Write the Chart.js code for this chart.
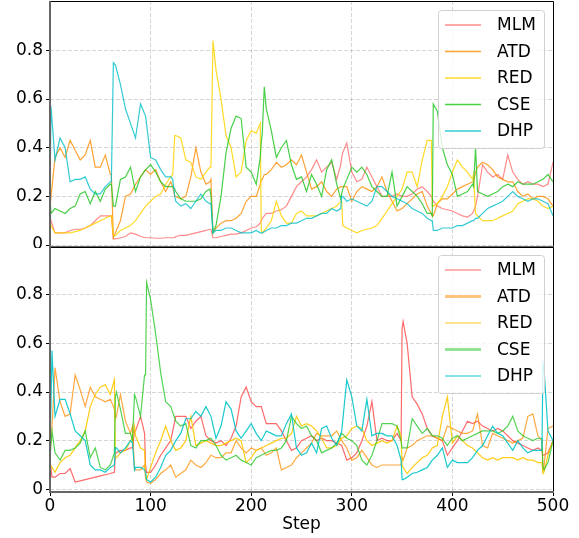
<!DOCTYPE html>
<html>
<head>
<meta charset="utf-8">
<script src="https://cdn.jsdelivr.net/npm/chart.js@4.4.1/dist/chart.umd.min.js"></script>
<style>
  html, body { margin: 0; padding: 0; background: #fff; }
  #wrap { position: relative; width: 579px; height: 538px; }
  #topChart { position: absolute; left: 0; top: 0; }
  #bottomChart { position: absolute; left: 0; top: 247px; }
</style>
</head>
<body>
<div id="wrap">
  <canvas id="topChart" width="579" height="248"></canvas>
  <canvas id="bottomChart" width="579" height="291"></canvas>
</div>
<script>
// ---- data (every 5 steps + a few points at the jumps) ----
const steps = [];
for (let s = 0; s <= 500; s += 5) steps.push(s);

const seriesNames = ["MLM", "ATD", "RED", "CSE", "DHP"];
const yTicks = [0, 0.2, 0.4, 0.6, 0.8];
const xTicks = [0, 100, 200, 300, 400, 500];

// top panel
const topMLM = [0.12,0.05,0.05,0.05,0.06,0.065,0.065,0.07,0.08,0.10,0.12,0.12,0.12,0.025,0.03,0.035,0.05,0.045,0.035,0.03,
  0.03,0.028,0.028,0.03,0.03,0.035,0.04,0.04,0.045,0.05,0.055,0.06,0.065,0.03,0.035,0.04,0.045,0.045,0.05,0.06,
  0.07,0.075,0.1,0.13,0.13,0.14,0.145,0.16,0.2,0.24,0.26,0.28,0.31,0.35,0.3,0.32,0.34,0.27,0.36,0.42,
  0.3,0.26,0.27,0.32,0.28,0.24,0.2,0.2,0.2,0.21,0.2,0.2,0.21,0.23,0.24,0.22,0.19,0.16,0.15,0.145,
  0.14,0.13,0.12,0.115,0.13,0.2,0.33,0.3,0.28,0.29,0.27,0.37,0.3,0.27,0.25,0.26,0.25,0.25,0.24,0.25,0.34];
const topATD = [0.15,0.36,0.4,0.36,0.43,0.39,0.35,0.37,0.43,0.32,0.32,0.37,0.29,0.05,0.1,0.2,0.21,0.25,0.28,0.31,
  0.29,0.31,0.26,0.22,0.26,0.2,0.19,0.2,0.28,0.4,0.3,0.25,0.27,0.07,0.09,0.1,0.1,0.11,0.13,0.18,
  0.2,0.2,0.27,0.29,0.31,0.34,0.32,0.33,0.35,0.33,0.37,0.3,0.23,0.24,0.26,0.22,0.2,0.23,0.24,0.24,
  0.18,0.22,0.24,0.23,0.22,0.24,0.28,0.22,0.18,0.14,0.15,0.17,0.19,0.21,0.22,0.16,0.12,0.17,0.19,0.19,
  0.21,0.23,0.24,0.25,0.26,0.32,0.34,0.33,0.31,0.28,0.27,0.26,0.26,0.22,0.2,0.21,0.19,0.2,0.2,0.19,0.16];
const topRED = [0.1,0.05,0.05,0.05,0.05,0.055,0.06,0.07,0.08,0.09,0.1,0.11,0.12,0.04,0.06,0.07,0.08,0.1,0.13,0.16,
  0.18,0.2,0.21,0.25,0.28,0.45,0.44,0.35,0.34,0.28,0.27,0.3,0.32,0.72,0.6,0.45,0.4,0.28,0.3,0.43,
  0.47,0.46,0.06,0.07,0.1,0.18,0.12,0.09,0.09,0.13,0.14,0.12,0.12,0.12,0.13,0.14,0.15,0.16,0.18,0.07,
  0.06,0.05,0.06,0.065,0.07,0.08,0.11,0.14,0.17,0.2,0.23,0.3,0.3,0.24,0.35,0.43,0.16,0.17,0.2,0.24,
  0.3,0.35,0.32,0.3,0.27,0.12,0.1,0.1,0.1,0.11,0.12,0.13,0.14,0.17,0.18,0.19,0.19,0.18,0.16,0.15,0.16];
const topCSE = [0.2,0.15,0.14,0.13,0.15,0.16,0.21,0.22,0.17,0.22,0.18,0.23,0.25,0.16,0.27,0.28,0.32,0.22,0.28,0.31,
  0.33,0.3,0.26,0.24,0.24,0.22,0.19,0.18,0.18,0.18,0.19,0.22,0.2,0.08,0.2,0.38,0.48,0.53,0.52,0.32,
  0.3,0.25,0.42,0.56,0.47,0.36,0.4,0.43,0.33,0.27,0.28,0.22,0.29,0.25,0.2,0.31,0.35,0.25,0.21,0.27,
  0.32,0.3,0.32,0.29,0.24,0.22,0.2,0.2,0.3,0.16,0.2,0.24,0.22,0.2,0.17,0.13,0.12,0.55,0.4,0.33,
  0.29,0.2,0.21,0.22,0.25,0.22,0.21,0.2,0.21,0.22,0.24,0.25,0.24,0.26,0.25,0.25,0.25,0.26,0.27,0.29,0.26];
const topDHP = [0.2,0.35,0.44,0.4,0.26,0.27,0.27,0.28,0.23,0.21,0.21,0.24,0.26,0.74,0.66,0.56,0.5,0.44,0.58,0.53,
  0.36,0.35,0.31,0.28,0.28,0.18,0.16,0.17,0.15,0.18,0.21,0.18,0.17,0.06,0.06,0.07,0.07,0.06,0.05,0.05,
  0.05,0.06,0.05,0.06,0.07,0.07,0.08,0.08,0.09,0.09,0.1,0.11,0.11,0.12,0.13,0.13,0.15,0.14,0.2,0.18,
  0.19,0.18,0.17,0.16,0.18,0.24,0.24,0.22,0.2,0.19,0.18,0.17,0.15,0.14,0.13,0.11,0.1,0.06,0.07,0.07,
  0.07,0.08,0.08,0.09,0.1,0.11,0.13,0.15,0.16,0.17,0.18,0.2,0.22,0.2,0.19,0.18,0.19,0.19,0.18,0.17,0.12];

// top panel: extra points around the sharp jumps
const topJumpSteps = [1, 61, 63, 122, 124, 159, 162, 209, 211, 213, 289, 291, 379, 381, 421, 423];
const topMLMJumps = [0.1, 0.12, 0.025, 0.03, 0.03, 0.065, 0.03, 0.09, 0.11, 0.12, 0.33, 0.38, 0.2, 0.18, 0.14, 0.16];
const topATDJumps = [0.2, 0.29, 0.03, 0.24, 0.2, 0.26, 0.05, 0.25, 0.27, 0.29, 0.24, 0.24, 0.13, 0.12, 0.26, 0.3];
const topREDJumps = [0.08, 0.12, 0.04, 0.29, 0.45, 0.32, 0.84, 0.5, 0.05, 0.06, 0.18, 0.08, 0.43, 0.16, 0.29, 0.13];
const topCSEJumps = [0.13, 0.25, 0.16, 0.24, 0.23, 0.23, 0.05, 0.36, 0.46, 0.65, 0.19, 0.23, 0.13, 0.58, 0.24, 0.4];
const topDHPJumps = [0.57, 0.26, 0.75, 0.27, 0.2, 0.17, 0.05, 0.05, 0.05, 0.055, 0.15, 0.2, 0.1, 0.06, 0.1, 0.11];

// bottom panel
const botMLM = [0.12,0.05,0.065,0.065,0.085,0.03,0.035,0.04,0.045,0.05,0.055,0.06,0.065,0.15,0.16,0.16,0.17,0.24,0.3,0.1,
  0.07,0.1,0.14,0.17,0.2,0.3,0.3,0.3,0.25,0.28,0.3,0.22,0.2,0.19,0.2,0.18,0.21,0.26,0.38,0.42,
  0.36,0.34,0.34,0.27,0.27,0.27,0.24,0.2,0.16,0.17,0.2,0.21,0.22,0.2,0.21,0.2,0.2,0.19,0.18,0.12,
  0.13,0.15,0.2,0.26,0.36,0.2,0.21,0.2,0.2,0.23,0.66,0.6,0.38,0.35,0.31,0.25,0.22,0.21,0.2,0.14,
  0.17,0.2,0.24,0.28,0.27,0.28,0.26,0.25,0.24,0.25,0.24,0.22,0.2,0.19,0.18,0.17,0.16,0.17,0.14,0.15,0.2];
const botATD = [0.15,0.5,0.36,0.3,0.31,0.47,0.41,0.34,0.42,0.38,0.37,0.36,0.37,0.29,0.39,0.28,0.23,0.08,0.08,0.05,
  0.025,0.04,0.065,0.08,0.1,0.05,0.065,0.08,0.12,0.1,0.09,0.11,0.14,0.13,0.13,0.15,0.15,0.2,0.17,0.15,
  0.17,0.16,0.17,0.14,0.15,0.17,0.08,0.09,0.1,0.13,0.15,0.17,0.19,0.23,0.22,0.22,0.22,0.24,0.2,0.17,
  0.12,0.13,0.16,0.13,0.1,0.09,0.1,0.1,0.1,0.1,0.13,0.17,0.18,0.2,0.21,0.22,0.22,0.21,0.2,0.26,
  0.25,0.24,0.23,0.23,0.24,0.31,0.18,0.17,0.23,0.22,0.21,0.2,0.19,0.2,0.21,0.3,0.31,0.22,0.08,0.25,0.26];
const botRED = [0.1,0.07,0.11,0.13,0.14,0.17,0.2,0.24,0.34,0.39,0.42,0.43,0.39,0.13,0.15,0.16,0.2,0.22,0.17,0.05,
  0.09,0.15,0.2,0.26,0.2,0.16,0.17,0.2,0.3,0.18,0.19,0.2,0.19,0.18,0.18,0.19,0.2,0.21,0.2,0.11,
  0.13,0.16,0.17,0.18,0.19,0.2,0.21,0.21,0.23,0.3,0.26,0.27,0.26,0.24,0.21,0.17,0.17,0.18,0.21,0.22,
  0.25,0.26,0.25,0.2,0.18,0.19,0.2,0.19,0.2,0.26,0.1,0.065,0.09,0.11,0.13,0.14,0.17,0.18,0.3,0.38,
  0.19,0.22,0.2,0.18,0.17,0.15,0.13,0.12,0.13,0.12,0.13,0.13,0.13,0.12,0.13,0.12,0.12,0.11,0.065,0.14,0.2];
const botCSE = [0.13,0.15,0.12,0.16,0.16,0.17,0.19,0.24,0.13,0.17,0.09,0.08,0.1,0.38,0.33,0.23,0.23,0.38,0.3,0.47,
  0.78,0.64,0.48,0.36,0.34,0.28,0.26,0.27,0.18,0.17,0.2,0.2,0.21,0.18,0.14,0.12,0.13,0.14,0.12,0.11,
  0.1,0.13,0.14,0.15,0.16,0.16,0.17,0.2,0.3,0.27,0.25,0.26,0.22,0.2,0.15,0.16,0.17,0.19,0.23,0.21,
  0.2,0.18,0.12,0.1,0.14,0.2,0.27,0.27,0.27,0.26,0.17,0.17,0.29,0.26,0.23,0.25,0.22,0.22,0.21,0.18,
  0.21,0.22,0.2,0.21,0.22,0.23,0.24,0.24,0.24,0.23,0.24,0.26,0.3,0.24,0.22,0.21,0.2,0.21,0.09,0.11,0.2];
const botDHP = [0.15,0.3,0.37,0.37,0.31,0.24,0.22,0.2,0.1,0.08,0.08,0.07,0.09,0.17,0.15,0.17,0.2,0.09,0.09,0.07,
  0.03,0.05,0.09,0.14,0.16,0.2,0.23,0.29,0.29,0.32,0.3,0.34,0.3,0.21,0.26,0.36,0.33,0.24,0.21,0.24,
  0.27,0.23,0.2,0.24,0.23,0.22,0.22,0.27,0.31,0.17,0.14,0.15,0.19,0.15,0.25,0.26,0.21,0.18,0.24,0.45,
  0.38,0.26,0.24,0.37,0.22,0.23,0.23,0.22,0.22,0.18,0.04,0.05,0.065,0.07,0.08,0.09,0.12,0.14,0.17,0.09,
  0.12,0.11,0.11,0.11,0.13,0.16,0.18,0.22,0.26,0.23,0.22,0.19,0.16,0.2,0.17,0.15,0.16,0.16,0.52,0.24,0.2];

// bottom panel: extra points around the sharp jumps
const botJumpSteps = [2, 64, 66, 82, 84, 94, 96, 349, 351, 489, 491];
const botMLMJumps = [0.05, 0.07, 0.15, 0.17, 0.24, 0.23, 0.07, 0.2, 0.69, 0.16, 0.14];
const botATDJumps = [0.25, 0.33, 0.3, 0.26, 0.08, 0.1, 0.03, 0.1, 0.12, 0.2, 0.09];
const botREDJumps = [0.09, 0.45, 0.13, 0.21, 0.26, 0.16, 0.04, 0.22, 0.09, 0.11, 0.07];
const botCSEJumps = [0.24, 0.15, 0.4, 0.2, 0.39, 0.47, 0.85, 0.2, 0.17, 0.21, 0.08];
const botDHPJumps = [0.57, 0.1, 0.17, 0.19, 0.08, 0.08, 0.04, 0.12, 0.04, 0.16, 0.5];

const topColors = ["rgba(255,100,100,0.75)", "rgba(255,140,0,0.8)", "rgba(255,212,0,0.85)", "rgba(40,200,40,0.85)", "rgba(0,190,200,0.8)"];
const botColors = ["rgba(255,70,70,0.8)", "rgba(255,140,0,0.75)", "rgba(255,200,0,0.9)", "rgba(40,200,40,0.8)", "rgba(0,195,200,0.9)"];
const botLegendColors = ["rgba(255,70,70,0.85)", "rgba(255,140,0,0.5)", "rgba(255,200,0,0.9)", "rgba(40,200,40,0.5)", "rgba(0,195,200,0.95)"];
const botLegendWidths = [1.2, 3, 1.2, 3, 1.2];

const FONT = "'DejaVu Sans', sans-serif";

// grid points + jump points, sorted by step
function mergePoints(vals, jumpSteps, jumpVals) {
  const pts = vals.map((v, k) => ({ x: steps[k], y: v }));
  jumpSteps.forEach((s, k) => pts.push({ x: s, y: jumpVals[k] }));
  return pts.sort((a, b) => a.x - b.x);
}

function makeDatasets(values, jumpSteps, jumps, colors) {
  return values.map((vals, i) => ({
    label: seriesNames[i],
    data: mergePoints(vals, jumpSteps, jumps[i]),
    borderColor: colors[i],
    borderWidth: 1.2,
    pointRadius: 0,
    tension: 0,
    fill: false,
    order: values.length - i   // later series on top, like matplotlib
  }));
}

// legend box in the top-right corner of the plot area
const boxLegend = {
  id: "boxLegend",
  afterDraw(chart, args, opts) {
    const { ctx, chartArea } = chart;
    const w = 106, h = 138;
    const x0 = chartArea.right - 9 - w;
    const y0 = chartArea.top + opts.top;
    ctx.save();
    ctx.beginPath();
    ctx.roundRect(x0 + 0.5, y0 + 0.5, w, h, 3);
    ctx.fillStyle = "rgba(255,255,255,0.8)";
    ctx.fill();
    ctx.strokeStyle = "#d0d0d0";
    ctx.lineWidth = 1;
    ctx.stroke();
    ctx.font = "17px " + FONT;
    ctx.textBaseline = "middle";
    ctx.textAlign = "left";
    chart.data.datasets.forEach((ds, i) => {
      const cy = y0 + 15 + i * 26.5;
      ctx.beginPath();
      ctx.moveTo(x0 + 7, cy);
      ctx.lineTo(x0 + 43, cy);
      ctx.strokeStyle = opts.colors ? opts.colors[i] : ds.borderColor;
      ctx.lineWidth = opts.widths ? opts.widths[i] : 1.5;
      ctx.stroke();
      ctx.fillStyle = "#000";
      ctx.fillText(ds.label, x0 + 59, cy + 1);
    });
    ctx.restore();
  }
};

// spines: gray left/bottom, black top/right
const spines = {
  id: "spines",
  afterDatasetsDraw(chart) {
    const { ctx, chartArea: a } = chart;
    ctx.save();
    ctx.strokeStyle = "#000";
    ctx.lineWidth = 1;
    ctx.beginPath();
    ctx.moveTo(a.left, a.top + 0.5);
    ctx.lineTo(a.right + 0.5, a.top + 0.5);
    ctx.lineTo(a.right + 0.5, a.bottom);
    ctx.stroke();
    ctx.strokeStyle = "#666";
    ctx.lineWidth = 2;
    ctx.beginPath();
    ctx.moveTo(a.left, a.top);
    ctx.lineTo(a.left, a.bottom);
    ctx.lineTo(a.right + 1, a.bottom);
    ctx.stroke();
    ctx.restore();
  }
};

function setTicks(vals) {
  return axis => { axis.ticks = vals.map(v => ({ value: v })); };
}

function makeOptions(cfg) {
  return {
    responsive: false,
    animation: false,
    events: [],
    layout: { padding: { left: 0, right: 26, top: cfg.padTop, bottom: 0 } },
    plugins: {
      legend: { display: false },
      tooltip: { enabled: false },
      boxLegend: cfg.legend
    },
    scales: {
      x: {
        type: "linear",
        min: 0,
        max: 500,
        afterBuildTicks: setTicks(xTicks),
        afterFit: axis => {
          axis.height = cfg.xHeight;
          axis.paddingLeft = 0;
          axis.paddingRight = 0;
        },
        border: { display: false, dash: [4, 2] },
        grid: {
          color: "rgba(0,0,0,0.16)",
          tickBorderDash: [],
          tickColor: "#000",
          tickLength: 4,
          drawTicks: cfg.showX
        },
        ticks: {
          display: cfg.showX,
          color: "#000",
          padding: 0,
          maxRotation: 0,
          font: { family: FONT, size: 17 }
        },
        title: {
          display: cfg.showX,
          text: "Step",
          color: "#000",
          padding: { top: 0, bottom: 3 },
          font: { family: FONT, size: 17 }
        }
      },
      y: {
        min: cfg.yMin,
        max: cfg.yMax,
        afterBuildTicks: setTicks(yTicks),
        afterFit: axis => {
          axis.width = 50;
          axis.paddingTop = 0;
          axis.paddingBottom = 0;
        },
        border: { display: false, dash: [4, 2] },
        grid: {
          color: "rgba(0,0,0,0.16)",
          tickBorderDash: [],
          tickColor: "#000",
          tickLength: 4
        },
        ticks: {
          color: "#000",
          padding: 3,
          font: { family: FONT, size: 17 },
          callback: v => (v === 0 ? "0" : String(Math.round(v * 10) / 10))
        }
      }
    }
  };
}

new Chart(document.getElementById("topChart"), {
  type: "line",
  data: {
    datasets: makeDatasets(
      [topMLM, topATD, topRED, topCSE, topDHP],
      topJumpSteps,
      [topMLMJumps, topATDJumps, topREDJumps, topCSEJumps, topDHPJumps],
      topColors)
  },
  options: makeOptions({
    padTop: 1, xHeight: 1, showX: false, yMin: -0.008, yMax: 1.003,
    legend: { top: 9 }
  }),
  plugins: [spines, boxLegend]
});

new Chart(document.getElementById("bottomChart"), {
  type: "line",
  data: {
    datasets: makeDatasets(
      [botMLM, botATD, botRED, botCSE, botDHP],
      botJumpSteps,
      [botMLMJumps, botATDJumps, botREDJumps, botCSEJumps, botDHPJumps],
      botColors)
  },
  options: makeOptions({
    padTop: 0, xHeight: 46, showX: true, yMin: -0.011, yMax: 0.996,
    legend: { top: 8, colors: botLegendColors, widths: botLegendWidths }
  }),
  plugins: [spines, boxLegend]
});
</script>
</body>
</html>
